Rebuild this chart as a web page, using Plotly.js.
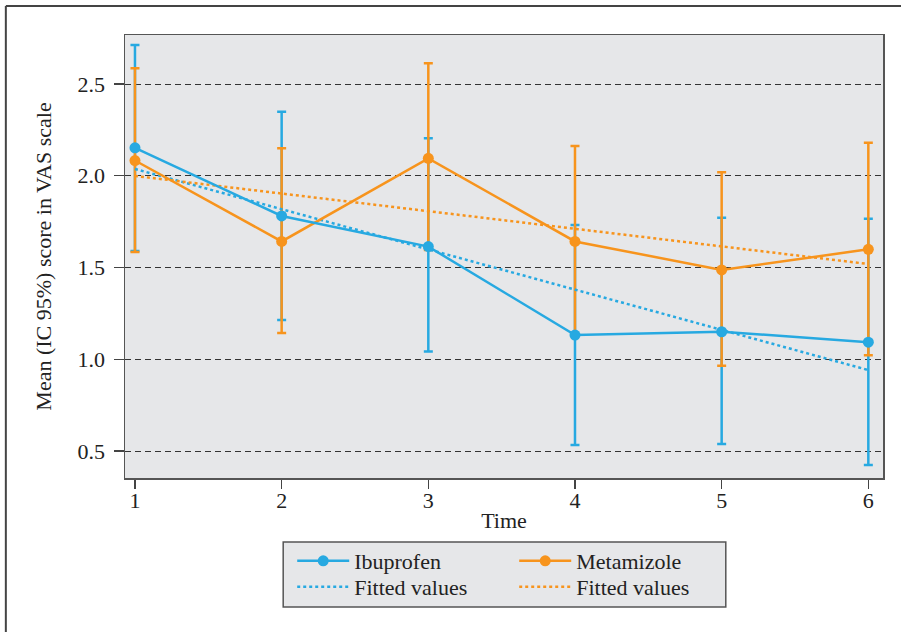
<!DOCTYPE html>
<html>
<head>
<meta charset="utf-8">
<script src="https://cdn.plot.ly/plotly-3.0.1.min.js"></script>
<style>html,body{margin:0;padding:0;background:#fff;}#chart{width:901px;height:632px;}</style>
</head>
<body>
<div id="chart"></div>
<script>
var time = [1, 2, 3, 4, 5, 6];
var ibuMean  = [2.152, 1.781, 1.614, 1.132, 1.150, 1.093];
var ibuUpper = [2.713, 2.349, 2.204, 1.732, 1.771, 1.766];
var ibuLower = [1.590, 1.214, 1.042, 0.533, 0.538, 0.424];
var metaMean  = [2.083, 1.642, 2.095, 1.642, 1.487, 1.599];
var metaUpper = [2.586, 2.150, 2.613, 2.162, 2.019, 2.180];
var metaLower = [1.585, 1.143, 1.595, 1.128, 0.965, 1.022];
var fitTime = [1, 6];
var ibuFit  = [2.037, 0.941];
var metaFit = [1.999, 1.519];
var yTicks = [0.5, 1.0, 1.5, 2.0, 2.5];
var yTickText = ['0.5', '1.0', '1.5', '2.0', '2.5'];

var blue = '#27a9e1';
var orange = '#f7941d';
var font = 'Liberation Serif, Times New Roman, serif';
var fs = 22;

function diff(a, b) { return a.map(function (v, i) { return v - b[i]; }); }

function errTrace(mean, upper, lower, color) {
  return {
    x: time, y: mean, type: 'scatter', mode: 'markers', showlegend: false, hoverinfo: 'skip',
    marker: {color: color, size: 1, opacity: 0},
    error_y: {type: 'data', symmetric: false, array: diff(upper, mean), arrayminus: diff(mean, lower),
      color: color, thickness: 2.5, width: 4.5}
  };
}

var traces = [
  errTrace(ibuMean, ibuUpper, ibuLower, blue),
  errTrace(metaMean, metaUpper, metaLower, orange),
  {
    x: fitTime, y: ibuFit, name: 'Fitted values', type: 'scatter', mode: 'lines',
    line: {color: blue, width: 2.5, dash: 'dot'}, legend: 'legend2', legendrank: 1
  },
  {
    x: fitTime, y: metaFit, name: 'Fitted values', type: 'scatter', mode: 'lines',
    line: {color: orange, width: 2.5, dash: 'dot'}, legend: 'legend2', legendrank: 2
  },
  {
    x: time, y: metaMean, name: 'Metamizole', type: 'scatter', mode: 'lines+markers',
    line: {color: orange, width: 2.5}, marker: {color: orange, size: 11},
    legend: 'legend', legendrank: 2
  },
  {
    x: time, y: ibuMean, name: 'Ibuprofen', type: 'scatter', mode: 'lines+markers',
    line: {color: blue, width: 2.5}, marker: {color: blue, size: 11},
    legend: 'legend', legendrank: 1
  }
];

var legendCommon = {
  orientation: 'h', xref: 'paper', yref: 'paper', xanchor: 'left', yanchor: 'middle', x: 0.2206,
  bgcolor: 'rgba(0,0,0,0)', borderwidth: 0, itemwidth: 52, entrywidth: 155, entrywidthmode: 'pixels',
  font: {family: font, size: fs, color: '#222'}, itemclick: false
};

var layout = {
  width: 901, height: 632,
  margin: {l: 125, r: 18, t: 35, b: 154},
  paper_bgcolor: '#ffffff', plot_bgcolor: '#e6e7e9',
  font: {family: font, size: fs, color: '#222'},
  showlegend: true,
  legend: Object.assign({}, legendCommon, {y: -0.1874}),
  legend2: Object.assign({}, legendCommon, {y: -0.2460}),
  xaxis: {
    range: [0.932, 6.10], tickvals: time, ticktext: time.map(String),
    showgrid: false, zeroline: false, showline: true, mirror: true, linecolor: '#555', linewidth: 1.5,
    ticks: 'outside', ticklen: 9, tickwidth: 1.2, tickcolor: '#444', ticklabelstandoff: -7,
    tickfont: {family: font, size: fs, color: '#222'}, automargin: true,
    title: {text: 'Time', font: {family: font, size: fs, color: '#222'}, standoff: 0}
  },
  yaxis: {
    range: [0.353, 2.767], tickvals: yTicks, ticktext: yTickText,
    showgrid: true, gridcolor: '#333', gridwidth: 1, griddash: '6px,4px',
    zeroline: false, showline: true, mirror: true, linecolor: '#555', linewidth: 1.5,
    ticks: 'outside', ticklen: 10, tickwidth: 1.2, tickcolor: '#444', ticklabelstandoff: 4,
    tickfont: {family: font, size: fs, color: '#222'}, automargin: true,
    title: {text: 'Mean (IC 95%) score in VAS scale', font: {family: font, size: fs, color: '#222'}, standoff: 20}
  },
  shapes: [
    {type: 'rect', xref: 'paper', yref: 'paper', x0: 0.2087, x1: 0.7926, y0: -0.2912, y1: -0.1445,
      fillcolor: '#e6e7e9', line: {color: '#555', width: 1.5}, layer: 'below'},
    {type: 'line', xref: 'paper', yref: 'paper', x0: -0.1572, x1: 1.03, y0: 1.0655, y1: 1.0655,
      line: {color: '#444', width: 2}},
    {type: 'line', xref: 'paper', yref: 'paper', x0: -0.1572, x1: -0.1572, y0: 1.0655, y1: -0.36,
      line: {color: '#444', width: 2}}
  ]
};

Plotly.newPlot('chart', traces, layout, {displayModeBar: false, staticPlot: true});
</script>
</body>
</html>
